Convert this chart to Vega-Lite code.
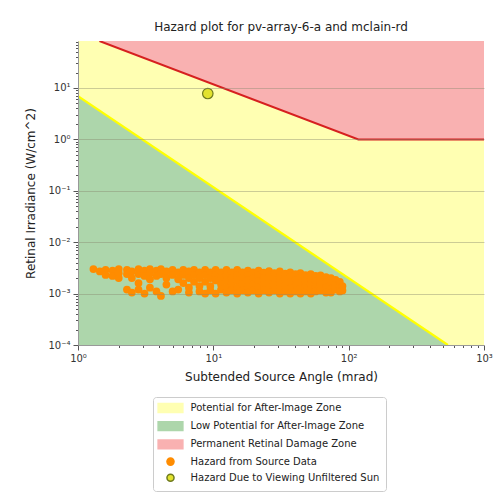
{
  "$schema": "https://vega.github.io/schema/vega-lite/v6.json",
  "width": 406,
  "height": 304,
  "autosize": {"type": "none"},
  "padding": {"left": 78, "top": 41, "right": 17, "bottom": 155},
  "background": "white",
  "title": {"text": "Hazard plot for pv-array-6-a and mclain-rd", "font": "DejaVu Sans", "fontSize": 12, "fontWeight": "normal", "color": "#222222", "offset": 7},
  "config": {
    "view": {"stroke": null},
    "font": "DejaVu Sans",
    "axis": {"labelFont": "DejaVu Sans", "titleFont": "DejaVu Sans", "labelColor": "#333333", "titleColor": "#222222", "titleFontWeight": "normal", "titleFontSize": 12, "labelFontSize": 10, "domainColor": "#999999", "tickColor": "#555555"}
  },
  "layer": [
    {
      "data": {"values": [
        {"x": 1, "top": 82, "bottom": 0.0001, "label": "Potential for After-Image Zone"},
        {"x": 1000, "top": 82, "bottom": 0.0001, "label": "Potential for After-Image Zone"}
      ]},
      "mark": {"type": "area", "clip": true},
      "encoding": {
        "x": {"field": "x", "type": "quantitative", "scale": {"type": "log", "domain": [1, 1000], "nice": false},
          "axis": {"title": "Subtended Source Angle (mrad)", "grid": false, "values": [1,2,3,4,5,6,7,8,9,10,20,30,40,50,60,70,80,90,100,200,300,400,500,600,700,800,900,1000],
            "labelExpr": "datum.value == 1 ? '10⁰' : datum.value == 10 ? '10¹' : datum.value == 100 ? '10²' : datum.value == 1000 ? '10³' : ''",
            "tickSize": {"condition": {"test": "datum.value == 1 || datum.value == 10 || datum.value == 100 || datum.value == 1000", "value": 5}, "value": 2.5},
            "labelPadding": 3, "titlePadding": 8, "labelFlush": false}},
        "y": {"field": "top", "type": "quantitative", "scale": {"type": "log", "domain": [0.0001, 82], "nice": false},
          "axis": {"title": "Retinal Irradiance (W/cm^2)", "grid": true, "zindex": 1, "values": [0.0001,0.0002,0.0003,0.0004,0.0005,0.0006,0.0007,0.0008,0.0009,0.001,0.002,0.003,0.004,0.005,0.006,0.007,0.008,0.009,0.01,0.02,0.03,0.04,0.05,0.06,0.07,0.08,0.09,0.1,0.2,0.3,0.4,0.5,0.6,0.7,0.8,0.9,1,2,3,4,5,6,7,8,9,10,20,30,40,50,60,70,80],
            "labelExpr": "datum.value == 0.0001 ? '10⁻⁴' : datum.value == 0.001 ? '10⁻³' : datum.value == 0.01 ? '10⁻²' : datum.value == 0.1 ? '10⁻¹' : datum.value == 1 ? '10⁰' : datum.value == 10 ? '10¹' : ''",
            "tickSize": {"condition": {"test": "datum.value == 0.0001 || datum.value == 0.001 || datum.value == 0.01 || datum.value == 0.1 || datum.value == 1 || datum.value == 10", "value": 5}, "value": 2.5},
            "gridOpacity": {"condition": {"test": "datum.value == 0.001 || datum.value == 0.01 || datum.value == 0.1 || datum.value == 1 || datum.value == 10", "value": 0.55}, "value": 0},
            "gridColor": "#8a8a70", "gridWidth": 0.8,
            "labelPadding": 3, "titlePadding": 10, "labelFlush": false}},
        "y2": {"field": "bottom"},
        "color": {"field": "label", "type": "nominal",
          "scale": {"domain": ["Potential for After-Image Zone", "Low Potential for After-Image Zone", "Permanent Retinal Damage Zone", "Hazard from Source Data", "Hazard Due to Viewing Unfiltered Sun"],
                    "range": ["#ffffb2", "#add6ab", "#f9b1b1", "#ff8c00", "#e2e22e"]},
          "legend": {"title": null, "orient": "none", "legendX": 75, "legendY": 356, "direction": "vertical",
            "labelFont": "DejaVu Sans", "labelFontSize": 10, "labelColor": "#222222", "labelLimit": 0, "symbolSize": 50,
            "strokeColor": "#cccccc", "cornerRadius": 3, "fillColor": "white", "padding": 6, "rowPadding": 2.2, "labelOffset": 15, "symbolOffset": 6.5}}
      }
    },
    {
      "data": {"values": [
        {"x": 1, "top": 6.9, "bottom": 0.0001, "label": "Low Potential for After-Image Zone"},
        {"x": 541, "top": 0.0001, "bottom": 0.0001, "label": "Low Potential for After-Image Zone"}
      ]},
      "mark": {"type": "area", "clip": true},
      "encoding": {
        "x": {"field": "x", "type": "quantitative"},
        "y": {"field": "top", "type": "quantitative"},
        "y2": {"field": "bottom"},
        "color": {"field": "label", "type": "nominal"}
      }
    },
    {
      "data": {"values": [
        {"x": 1.44, "top": 82, "bottom": 82, "label": "Permanent Retinal Damage Zone"},
        {"x": 118, "top": 1, "bottom": 82, "label": "Permanent Retinal Damage Zone"},
        {"x": 1000, "top": 1, "bottom": 82, "label": "Permanent Retinal Damage Zone"}
      ]},
      "mark": {"type": "area", "clip": true},
      "encoding": {
        "x": {"field": "x", "type": "quantitative"},
        "y": {"field": "top", "type": "quantitative"},
        "y2": {"field": "bottom"},
        "color": {"field": "label", "type": "nominal"}
      }
    },
    {
      "data": {"values": [{"x": 1, "y": 6.9}, {"x": 541, "y": 0.0001}]},
      "mark": {"type": "line", "color": "#ffff00", "strokeWidth": 2.2, "clip": true},
      "encoding": {"x": {"field": "x", "type": "quantitative"}, "y": {"field": "y", "type": "quantitative"}}
    },
    {
      "data": {"values": [{"x": 1.44, "y": 82}, {"x": 118, "y": 1}, {"x": 1000, "y": 1}]},
      "mark": {"type": "line", "color": "#d62020", "strokeWidth": 2, "clip": true},
      "encoding": {"x": {"field": "x", "type": "quantitative"}, "y": {"field": "y", "type": "quantitative"}}
    },
    {
      "data": {"values": [
        {"x":1.3,"y":0.0030},{"x":1.45,"y":0.0027},{"x":1.6,"y":0.0029},{"x":1.6,"y":0.0023},{"x":1.8,"y":0.0028},{"x":1.8,"y":0.0022},
        {"x":2.0,"y":0.0030},{"x":2.0,"y":0.0025},{"x":2.0,"y":0.0020},{"x":2.3,"y":0.0029},{"x":2.3,"y":0.0024},{"x":2.3,"y":0.0012},
        {"x":2.5,"y":0.0027},{"x":2.5,"y":0.0020},{"x":2.5,"y":0.00105},{"x":2.8,"y":0.0030},{"x":2.8,"y":0.0024},{"x":2.8,"y":0.0016},{"x":2.8,"y":0.0012},
        {"x":3.1,"y":0.0028},{"x":3.1,"y":0.0022},{"x":3.1,"y":0.0010},{"x":3.4,"y":0.0030},{"x":3.4,"y":0.0025},{"x":3.4,"y":0.0019},{"x":3.4,"y":0.0013},
        {"x":3.8,"y":0.0028},{"x":3.8,"y":0.0022},{"x":3.8,"y":0.0011},{"x":4.1,"y":0.0030},{"x":4.1,"y":0.0024},{"x":4.1,"y":0.0009},
        {"x":4.5,"y":0.0027},{"x":4.5,"y":0.0020},{"x":4.5,"y":0.0015},{"x":5.0,"y":0.0029},{"x":5.0,"y":0.0023},{"x":5.0,"y":0.0011},
        {"x":5.5,"y":0.0026},{"x":5.5,"y":0.0019},{"x":5.5,"y":0.0012},{"x":6.0,"y":0.0029},{"x":6.0,"y":0.0023},{"x":6.0,"y":0.0016},
        {"x":6.6,"y":0.0027},{"x":6.6,"y":0.0020},{"x":6.6,"y":0.0013},{"x":6.6,"y":0.00105},{"x":7.2,"y":0.0029},{"x":7.2,"y":0.0023},{"x":7.2,"y":0.0017},
        {"x":7.9,"y":0.0026},{"x":7.9,"y":0.0020},{"x":7.9,"y":0.0014},{"x":7.9,"y":0.0011},{"x":8.7,"y":0.0029},{"x":8.7,"y":0.0023},{"x":8.7,"y":0.0017},{"x":8.7,"y":0.0010},
        {"x":9.5,"y":0.0026},{"x":9.5,"y":0.0020},{"x":9.5,"y":0.0014},{"x":9.5,"y":0.00115},{"x":10.4,"y":0.0029},{"x":10.4,"y":0.0023},{"x":10.4,"y":0.0018},{"x":10.4,"y":0.0010},
        {"x":11.4,"y":0.0026},{"x":11.4,"y":0.0020},{"x":11.4,"y":0.0015},{"x":11.4,"y":0.0012},{"x":12.5,"y":0.0029},{"x":12.5,"y":0.0023},{"x":12.5,"y":0.0018},{"x":12.5,"y":0.0013},{"x":12.5,"y":0.00105},
        {"x":13.7,"y":0.0026},{"x":13.7,"y":0.0020},{"x":13.7,"y":0.0015},{"x":13.7,"y":0.00115},{"x":15,"y":0.0029},{"x":15,"y":0.0023},{"x":15,"y":0.0018},{"x":15,"y":0.0013},{"x":15,"y":0.0010},
        {"x":16.4,"y":0.0026},{"x":16.4,"y":0.0020},{"x":16.4,"y":0.00155},{"x":16.4,"y":0.00115},{"x":18,"y":0.0028},{"x":18,"y":0.0023},{"x":18,"y":0.0018},{"x":18,"y":0.00135},{"x":18,"y":0.00105},
        {"x":19.7,"y":0.0026},{"x":19.7,"y":0.0020},{"x":19.7,"y":0.0015},{"x":19.7,"y":0.00115},{"x":21.6,"y":0.0028},{"x":21.6,"y":0.00225},{"x":21.6,"y":0.00175},{"x":21.6,"y":0.0013},{"x":21.6,"y":0.0010},
        {"x":23.6,"y":0.00255},{"x":23.6,"y":0.0020},{"x":23.6,"y":0.0015},{"x":23.6,"y":0.00115},{"x":25.8,"y":0.00275},{"x":25.8,"y":0.0022},{"x":25.8,"y":0.0017},{"x":25.8,"y":0.0013},{"x":25.8,"y":0.00105},
        {"x":28.3,"y":0.0025},{"x":28.3,"y":0.00195},{"x":28.3,"y":0.0015},{"x":28.3,"y":0.00115},{"x":31,"y":0.0027},{"x":31,"y":0.00215},{"x":31,"y":0.0017},{"x":31,"y":0.0013},{"x":31,"y":0.0010},
        {"x":34,"y":0.00245},{"x":34,"y":0.0019},{"x":34,"y":0.00145},{"x":34,"y":0.0011},{"x":37,"y":0.0026},{"x":37,"y":0.0021},{"x":37,"y":0.00165},{"x":37,"y":0.00125},{"x":37,"y":0.0010},
        {"x":40.5,"y":0.0024},{"x":40.5,"y":0.00185},{"x":40.5,"y":0.0014},{"x":40.5,"y":0.0011},{"x":44,"y":0.0025},{"x":44,"y":0.0020},{"x":44,"y":0.0016},{"x":44,"y":0.00125},{"x":44,"y":0.0010},
        {"x":48,"y":0.0023},{"x":48,"y":0.0018},{"x":48,"y":0.0014},{"x":48,"y":0.0011},{"x":52.5,"y":0.0024},{"x":52.5,"y":0.0019},{"x":52.5,"y":0.0015},{"x":52.5,"y":0.0012},{"x":52.5,"y":0.0010},
        {"x":57,"y":0.0022},{"x":57,"y":0.00175},{"x":57,"y":0.00135},{"x":57,"y":0.0011},{"x":62,"y":0.00225},{"x":62,"y":0.0018},{"x":62,"y":0.00145},{"x":62,"y":0.00115},
        {"x":68,"y":0.0021},{"x":68,"y":0.00165},{"x":68,"y":0.0013},{"x":68,"y":0.00105},{"x":74,"y":0.0020},{"x":74,"y":0.0016},{"x":74,"y":0.00125},{"x":74,"y":0.00105},
        {"x":80,"y":0.00185},{"x":80,"y":0.0015},{"x":80,"y":0.0012},{"x":86,"y":0.0017},{"x":86,"y":0.00135},{"x":86,"y":0.0011},{"x":90,"y":0.0014},{"x":90,"y":0.00115}
      ]},
      "transform": [{"calculate": "'Hazard from Source Data'", "as": "label"}],
      "mark": {"type": "point", "filled": true, "opacity": 1, "size": 60, "strokeWidth": 0},
      "encoding": {
        "x": {"field": "x", "type": "quantitative"},
        "y": {"field": "y", "type": "quantitative"},
        "color": {"field": "label", "type": "nominal"},
        "shape": {"field": "label", "type": "nominal",
          "scale": {"domain": ["Potential for After-Image Zone", "Low Potential for After-Image Zone", "Permanent Retinal Damage Zone", "Hazard from Source Data", "Hazard Due to Viewing Unfiltered Sun"],
                    "range": ["M-3.5,-1.25H3.5V1.25H-3.5Z", "M-3.5,-1.25H3.5V1.25H-3.5Z", "M-3.5,-1.25H3.5V1.25H-3.5Z", "circle", "circle"]}},
        "stroke": {"field": "label", "type": "nominal",
          "scale": {"domain": ["Potential for After-Image Zone", "Low Potential for After-Image Zone", "Permanent Retinal Damage Zone", "Hazard from Source Data", "Hazard Due to Viewing Unfiltered Sun"],
                    "range": ["#ffffb2", "#add6ab", "#f9b1b1", "#ff8c00", "#6e7a1e"]}}
      }
    },
    {
      "data": {"values": [{"x": 9.1, "y": 7.8, "label": "Hazard Due to Viewing Unfiltered Sun"}]},
      "mark": {"type": "point", "filled": true, "opacity": 1, "size": 110, "strokeWidth": 1.2},
      "encoding": {
        "x": {"field": "x", "type": "quantitative"},
        "y": {"field": "y", "type": "quantitative"},
        "color": {"field": "label", "type": "nominal"},
        "shape": {"field": "label", "type": "nominal"},
        "stroke": {"field": "label", "type": "nominal"}
      }
    }
  ]
}
